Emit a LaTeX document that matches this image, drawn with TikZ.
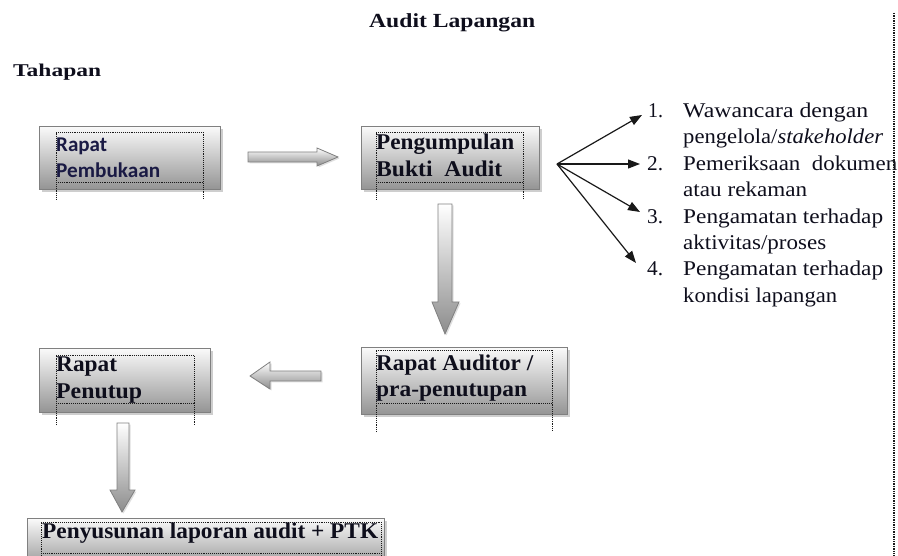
\documentclass[tikz,border=0pt]{standalone}
\usepackage{fontspec}
\setmainfont{Liberation Serif}
\newfontfamily\labelsans{Carlito}
\usetikzlibrary{shadows,calc,arrows.meta}
% set a line of text to a given width, keeping its height
\newcommand\fitw[2]{\resizebox{#1pt}{\height}{#2}}
\definecolor{inkdark}{HTML}{0E0E1C}
\definecolor{inknavy}{HTML}{1A1A44}
\begin{document}
\begin{tikzpicture}[x=1pt,y=-1pt,
  stagebox/.style={draw=black!50, line width=0.9pt, top color=black!2, bottom color=black!42,
    anchor=north west, inner sep=0pt,
    drop shadow={shadow xshift=2.5pt, shadow yshift=-2.5pt, opacity=0.35, fill=black!55}},
  guide/.style={densely dotted, line width=0.9pt, black!90},
  boxlbl/.style={anchor=base west, inner sep=0pt, text=inkdark,
    font=\bfseries\fontsize{22.5}{22.5}\selectfont},
  sanslbl/.style={boxlbl, text=inknavy, font=\labelsans\bfseries\fontsize{21}{21}\selectfont},
  heading/.style={anchor=base west, inner sep=0pt, text=inkdark,
    font=\bfseries\fontsize{20}{20}\selectfont},
  itemtxt/.style={anchor=base west, inner sep=0pt, text=inkdark,
    font=\fontsize{21}{21}\selectfont},
  blockarrow/.style={draw=black!50, line width=0.8pt, top color=white, bottom color=black!45,
    drop shadow={shadow xshift=1.5pt, shadow yshift=-1.5pt, opacity=0.25, fill=black!50}},
  fan/.style={-{Triangle[length=12pt,width=9pt]}, line width=1.2pt, black!90}
]
\useasboundingbox (0,0) rectangle (898,556);

% headings
\node[heading] (title) at (369,28) {\fitw{166}{Audit Lapangan}};
\node[heading, font=\bfseries\fontsize{18}{18}\selectfont] (tahapan) at (13,77) {\fitw{88}{Tahapan}};

% stage boxes
\node[stagebox, minimum width=181pt, minimum height=63pt] (b1) at (39,126) {};
\node[stagebox, minimum width=178pt, minimum height=63pt] (b2) at (361,126) {};
\node[stagebox, minimum width=171pt, minimum height=64pt] (b3) at (39,348) {};
\node[stagebox, minimum width=206pt, minimum height=67pt] (b4) at (361,347) {};
\node[stagebox, minimum width=357pt, minimum height=50pt] (b5) at (27,518) {};

% dotted text frames
\draw[guide] (56,200) -- (56,132) -- (203,132) -- (203,200);
\draw[guide] (56,182) -- (203,182);
\draw[guide] (376,200) -- (376,132) -- (523,132) -- (523,200);
\draw[guide] (376,182) -- (523,182);
\draw[guide] (56,425) -- (56,355) -- (194,355) -- (194,425);
\draw[guide] (56,403) -- (194,403);
\draw[guide] (376,432) -- (376,350) -- (552,350) -- (552,432);
\draw[guide] (376,403) -- (552,403);
\draw[guide] (41,556) -- (41,522) -- (381,522) -- (381,556);
\draw[guide] (41,553) -- (381,553);

% box labels
\node[sanslbl] (l1a) at (56,152) {\fitw{51}{Rapat}};
\node[sanslbl] (l1b) at (56,178) {\fitw{104}{Pembukaan}};
\node[boxlbl] (l2a) at (376,150) {\fitw{138}{Pengumpulan}};
\node[boxlbl] (l2b) at (376,177) {\fitw{126}{Bukti\ \ Audit}};
\node[boxlbl] (l3a) at (56,372) {\fitw{61}{Rapat}};
\node[boxlbl] (l3b) at (56,399) {\fitw{86}{Penutup}};
\node[boxlbl] (l4a) at (376,371) {\fitw{157}{Rapat Auditor /}};
\node[boxlbl] (l4b) at (376,397) {\fitw{151}{pra-penutupan}};
\node[boxlbl] (l5) at (42,538) {\fitw{336}{Penyusunan laporan audit + PTK}};

% block arrows between stages
\path[blockarrow] (248,152) -- (317,152) -- (317,148) -- (338,157) -- (317,166)
  -- (317,162) -- (248,162) -- cycle;
\path[blockarrow] (438,204) -- (452,204) -- (452,302) -- (459,302) -- (445,334)
  -- (432,302) -- (438,302) -- cycle;
\path[blockarrow] (321,371) -- (270,371) -- (270,362) -- (250,376) -- (270,389)
  -- (270,381) -- (321,381) -- cycle;
\path[blockarrow] (117,423) -- (129,423) -- (129,490) -- (135,490) -- (122,512)
  -- (110,490) -- (117,490) -- cycle;

% evidence gathering methods
\node[itemtxt] (n1) at (648,118) {\fitw{15}{1.}};
\node[itemtxt] (i1a) at (683,118) {\fitw{185}{Wawancara dengan}};
\node[itemtxt] (i1b) at (683,144) {\fitw{200}{pengelola/\textit{stakeholder}}};
\node[itemtxt] (n2) at (647,171) {\fitw{16}{2.}};
\node[itemtxt] (i2a) at (683,171) {\fitw{214}{Pemeriksaan\ \ dokumen}};
\node[itemtxt] (i2b) at (683,197) {\fitw{124}{atau rekaman}};
\node[itemtxt] (n3) at (647,224) {\fitw{16}{3.}};
\node[itemtxt] (i3a) at (683,224) {\fitw{200}{Pengamatan terhadap}};
\node[itemtxt] (i3b) at (683,250) {\fitw{143}{aktivitas/proses}};
\node[itemtxt] (n4) at (647,276) {\fitw{16}{4.}};
\node[itemtxt] (i4a) at (683,276) {\fitw{200}{Pengamatan terhadap}};
\node[itemtxt] (i4b) at (683,303) {\fitw{154}{kondisi lapangan}};

\coordinate (fan) at (557,164);
\draw[fan] (fan) -- ($(n1.base west)+(-6,-3)$);
\draw[fan] (fan) -- ($(n2.base west)+(-7,-7)$);
\draw[fan] (fan) -- ($(n3.base west)+(-7,-12)$);
\draw[fan] (fan) -- ($(n4.base west)+(-11,-13)$);

% page edge guide
\draw[guide, line width=1.4pt] (894,13) -- (894,556);
\end{tikzpicture}
\end{document}
